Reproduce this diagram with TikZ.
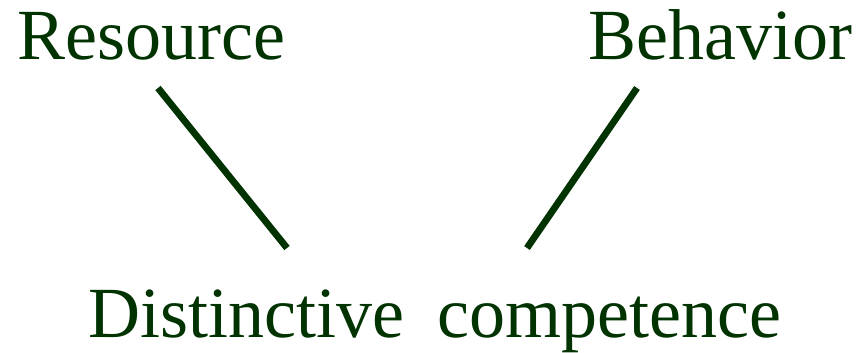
\documentclass[tikz,border=0pt]{standalone}
\usepackage{fontspec}
\setmainfont{Liberation Serif}
\usepackage{tikz}
\usetikzlibrary{calc}
\usepackage{xcolor}
\definecolor{mygreen}{RGB}{0, 51, 0}

\begin{document}
\begin{tikzpicture}[x=0.5pt, y=-0.5pt, >=stealth,
  word/.style={text=mygreen, inner sep=0pt, font=\fontsize{36}{40}\selectfont},
  link/.style={draw=mygreen, line width=3.4pt}]
  \useasboundingbox (0, 0) rectangle (864, 353);

  % Words
  \node[word, anchor=base west] (res) at (17, 60) {Resource};
  \node[word, anchor=base east] (beh) at (853, 60) {Behavior};
  \node[word, anchor=base] (dc) at (435, 338) {Distinctive\hspace{0.45em}competence};

  % Coordinates
  \coordinate (R1) at (158, 88);
  \coordinate (R2) at (287, 248);
  \coordinate (B1) at (637, 88);
  \coordinate (B2) at (527, 248);

  % Lines
  \draw[link] (R1) -- (R2);
  \draw[link] (B1) -- (B2);
\end{tikzpicture}
\end{document}
